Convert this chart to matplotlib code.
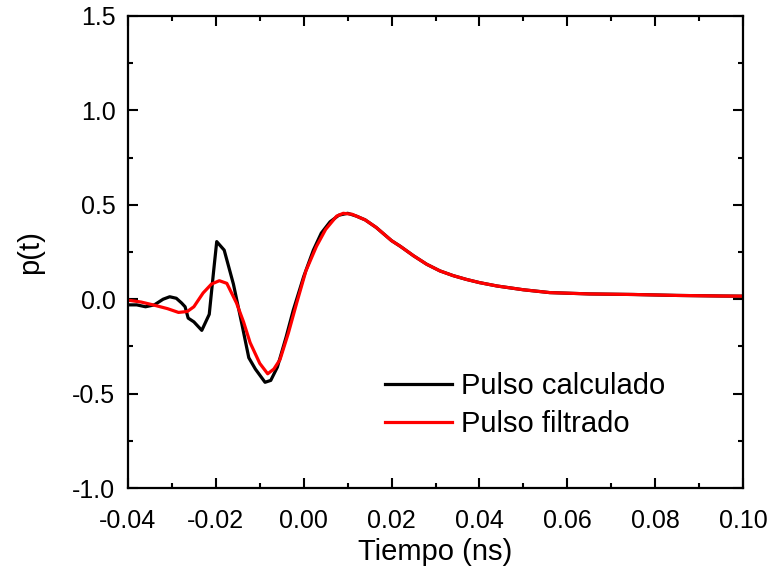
import matplotlib
matplotlib.use("Agg")
import matplotlib.pyplot as plt
from matplotlib.ticker import MultipleLocator

plt.rcParams['font.family'] = ['Liberation Sans', 'DejaVu Sans']

# pulso calculado (black)
t_calc = [-0.040, -0.038, -0.036, -0.034, -0.032, -0.0305, -0.029, -0.0278, -0.027, -0.0263,
          -0.025, -0.0232, -0.0215, -0.0205, -0.0198, -0.0181, -0.016, -0.014, -0.0125, -0.011,
          -0.0088, -0.0075, -0.006, -0.004, -0.0024, 0.000, 0.0022, 0.004, 0.006, 0.008,
          0.010, 0.012, 0.014, 0.0165, 0.018, 0.020, 0.022, 0.025, 0.028, 0.031,
          0.034, 0.037, 0.040, 0.044, 0.050, 0.056, 0.065, 0.075, 0.085, 0.095, 0.100]
p_calc = [-0.03, -0.03, -0.04, -0.03, 0.00, 0.013, 0.005, -0.02, -0.04, -0.10,
          -0.12, -0.165, -0.08, 0.15, 0.305, 0.26, 0.08, -0.14, -0.31, -0.37,
          -0.44, -0.43, -0.36, -0.20, -0.06, 0.12, 0.26, 0.35, 0.41, 0.445,
          0.455, 0.44, 0.42, 0.38, 0.35, 0.31, 0.28, 0.23, 0.185, 0.15,
          0.125, 0.105, 0.088, 0.07, 0.05, 0.035, 0.028, 0.025, 0.02, 0.017, 0.016]

# pulso filtrado (red)
t_filt = [-0.040, -0.037, -0.0343, -0.031, -0.0285, -0.0265, -0.025, -0.0229, -0.021, -0.0192,
          -0.0175, -0.0153, -0.0137, -0.0122, -0.010, -0.0082, -0.0068, -0.0054, -0.0035, -0.0016,
          0.0005, 0.0029, 0.005, 0.0075, 0.009, 0.011, 0.014, 0.0165, 0.018, 0.020,
          0.022, 0.025, 0.028, 0.031, 0.034, 0.037, 0.040, 0.044, 0.050, 0.056,
          0.065, 0.075, 0.085, 0.095, 0.100]
p_filt = [-0.005, -0.015, -0.03, -0.05, -0.07, -0.065, -0.04, 0.033, 0.08, 0.098,
          0.084, -0.02, -0.12, -0.23, -0.34, -0.395, -0.37, -0.32, -0.18, -0.02,
          0.15, 0.28, 0.37, 0.44, 0.455, 0.45, 0.42, 0.38, 0.35, 0.31,
          0.28, 0.23, 0.185, 0.15, 0.125, 0.105, 0.088, 0.07, 0.05, 0.035,
          0.028, 0.025, 0.02, 0.017, 0.016]

fig = plt.figure(figsize=(7.7, 5.77), dpi=100)
ax = fig.add_axes([0.1662, 0.1542, 0.7988, 0.8181])

ax.plot(t_calc, p_calc, color='black', lw=2.3, label='Pulso calculado')
ax.plot(t_filt, p_filt, color='#ff0000', lw=2.3, label='Pulso filtrado')

ax.set_xlim(-0.04, 0.10)
ax.set_ylim(-1.0, 1.5)
ax.xaxis.set_major_locator(MultipleLocator(0.02))
ax.xaxis.set_minor_locator(MultipleLocator(0.01))
ax.yaxis.set_major_locator(MultipleLocator(0.5))
ax.yaxis.set_minor_locator(MultipleLocator(0.25))
ax.xaxis.set_major_formatter(plt.FuncFormatter(lambda v, p: f"{v:.2f}"))
ax.yaxis.set_major_formatter(plt.FuncFormatter(lambda v, p: f"{v:.1f}"))

ax.tick_params(which='both', direction='in', top=True, right=True, width=1.5, labelsize=18)
ax.tick_params(which='major', length=7.5)
ax.tick_params(which='minor', length=3.5)
ax.tick_params(axis='x', which='major', pad=15)
ax.tick_params(axis='y', which='major', pad=9)
for s in ax.spines.values():
    s.set_linewidth(1.6)

ax.set_xlabel('Tiempo (ns)', fontsize=21, labelpad=4)
ax.set_ylabel('p(t)', fontsize=21, labelpad=20)

ax.legend(loc='center left', bbox_to_anchor=(0.418, 0.175), frameon=False, fontsize=21,
          handlelength=2.3, handletextpad=0.3, labelspacing=0.34,
          borderpad=0, borderaxespad=0)

fig.savefig('out.png', dpi=100)
